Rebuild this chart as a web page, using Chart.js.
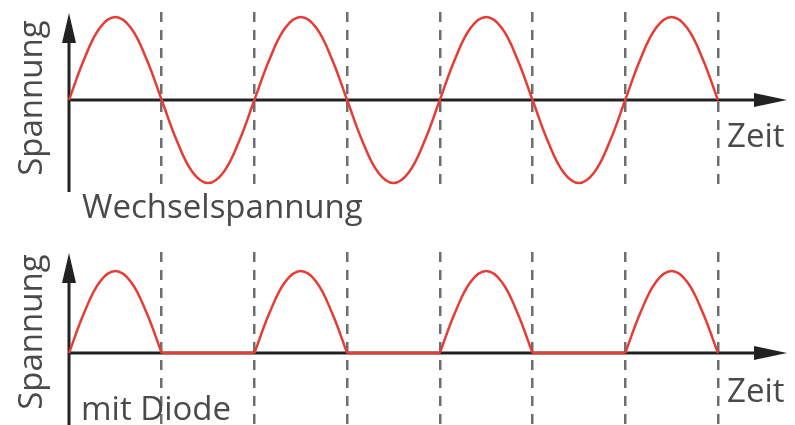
<!DOCTYPE html>
<html lang="de">
<head>
  <meta charset="UTF-8" />
  <title>Wechselspannung und Diode</title>
  <style>
    * { margin: 0; padding: 0; box-sizing: border-box; }
    html, body {
      width: 795px; height: 425px;
      background: #fff;
      overflow: hidden;
      font-family: "Open Sans", sans-serif;
    }
    .wrap { position: relative; width: 795px; height: 425px; }
    canvas { position: absolute; left: 0; display: block; }
    #oben { top: 0; }
    #unten { top: 240px; }
    .txt {
      position: absolute;
      font-size: 33px;
      line-height: 33px;
      color: #4a4a4a;
      white-space: nowrap;
    }
    .dreh { transform: translate(-50%, -50%) rotate(-90deg); }
  </style>
</head>
<body>
  <div class="wrap">
    <canvas id="oben" width="795" height="200"></canvas>
    <canvas id="unten" width="795" height="185"></canvas>
    <div class="txt dreh" style="left:29px; top:98px;">Spannung</div>
    <div class="txt dreh" style="left:29px; top:332px;">Spannung</div>
    <div class="txt" style="left:727px; top:118px;">Zeit</div>
    <div class="txt" style="left:727px; top:373px;">Zeit</div>
    <div class="txt" style="left:82px; top:189px;">Wechselspannung</div>
    <div class="txt" style="left:81px; top:391px;">mit Diode</div>
  </div>

  <script src="https://cdn.jsdelivr.net/npm/chart.js"></script>
  <script>
    // Zeit in Zwölfteln einer Periode (6 Schritte = halbe Periode)
    const zeit = [0, 1, 2, 3, 4, 5, 6, 7, 8, 9, 10, 11, 12, 13, 14, 15, 16, 17, 18, 19, 20, 21,
                  22, 23, 24, 25, 26, 27, 28, 29, 30, 31, 32, 33, 34, 35, 36, 37, 38, 39, 40, 41, 42];
    const wechselspannung = [0, 0.5, 0.87, 1, 0.87, 0.5, 0, -0.5, -0.87, -1, -0.87, -0.5,
                             0, 0.5, 0.87, 1, 0.87, 0.5, 0, -0.5, -0.87, -1, -0.87, -0.5,
                             0, 0.5, 0.87, 1, 0.87, 0.5, 0, -0.5, -0.87, -1, -0.87, -0.5,
                             0, 0.5, 0.87, 1, 0.87, 0.5, 0];
    const diodeBogen = [0, 0.5, 0.87, 1, 0.87, 0.5, 0, null, null, null, null, null,
                        0, 0.5, 0.87, 1, 0.87, 0.5, 0, null, null, null, null, null,
                        0, 0.5, 0.87, 1, 0.87, 0.5, 0, null, null, null, null, null,
                        0, 0.5, 0.87, 1, 0.87, 0.5, 0];
    const diodeNull = [null, null, null, null, null, null, 0, 0, 0, 0, 0, 0,
                       0, null, null, null, null, null, 0, 0, 0, 0, 0, 0,
                       0, null, null, null, null, null, 0, 0, 0, 0, 0, 0,
                       0, null, null, null, null, null, null];
    const teilung = [6, 12, 18, 24, 30, 36, 42];

    const ROT = '#e63c36';

    // Achsen mit Pfeilspitzen
    const achsen = {
      id: 'achsen',
      beforeDatasetsDraw(chart) {
        const { ctx, chartArea, scales: { x, y } } = chart;
        const x0 = x.getPixelForValue(0);
        const y0 = y.getPixelForValue(0);
        const top = chartArea.top + 1;
        const right = chartArea.right;
        ctx.save();
        ctx.strokeStyle = '#222';
        ctx.fillStyle = '#222';
        ctx.lineWidth = 3;
        ctx.beginPath();
        ctx.moveTo(x0, chartArea.bottom);
        ctx.lineTo(x0, top + 20);
        ctx.moveTo(x0, y0);
        ctx.lineTo(right - 25, y0);
        ctx.stroke();
        // Pfeil oben
        ctx.beginPath();
        ctx.moveTo(x0, top);
        ctx.lineTo(x0 + 7, top + 30);
        ctx.lineTo(x0 - 7, top + 30);
        ctx.closePath();
        ctx.fill();
        // Pfeil rechts
        ctx.beginPath();
        ctx.moveTo(right, y0);
        ctx.lineTo(right - 33, y0 - 7);
        ctx.lineTo(right - 33, y0 + 7);
        ctx.closePath();
        ctx.fill();
        ctx.restore();
      }
    };

    function panel(id, datasets, yMin, yMax, pad) {
      return new Chart(document.getElementById(id), {
        type: 'line',
        data: { labels: zeit, datasets: datasets },
        options: {
          responsive: false,
          animation: false,
          layout: { padding: pad },
          plugins: { legend: { display: false }, tooltip: { enabled: false } },
          elements: { point: { radius: 0 } },
          scales: {
            x: {
              type: 'linear',
              min: 0,
              max: 46.47,
              afterBuildTicks: s => { s.ticks = teilung.map(v => ({ value: v })); },
              ticks: { display: false },
              grid: { color: '#6e6e6e', lineWidth: 2.5, drawTicks: false },
              border: { display: false, dash: [10, 8] }
            },
            y: { display: false, min: yMin, max: yMax }
          }
        },
        plugins: [achsen]
      });
    }

    panel('oben', [{
      data: wechselspannung,
      borderColor: ROT,
      borderWidth: 2.5,
      tension: 0.4,
      clip: false
    }], -1.108, 1.06, { left: 69, right: 8, top: 12, bottom: 8 });

    panel('unten', [{
      data: diodeBogen,
      borderColor: ROT,
      borderWidth: 2.5,
      tension: 0.4,
      clip: false
    }, {
      data: diodeNull,
      borderColor: ROT,
      borderWidth: 2.5,
      tension: 0,
      clip: false
    }], -0.878, 1.232, { left: 69, right: 8, top: 12, bottom: 0 });
  </script>
</body>
</html>
